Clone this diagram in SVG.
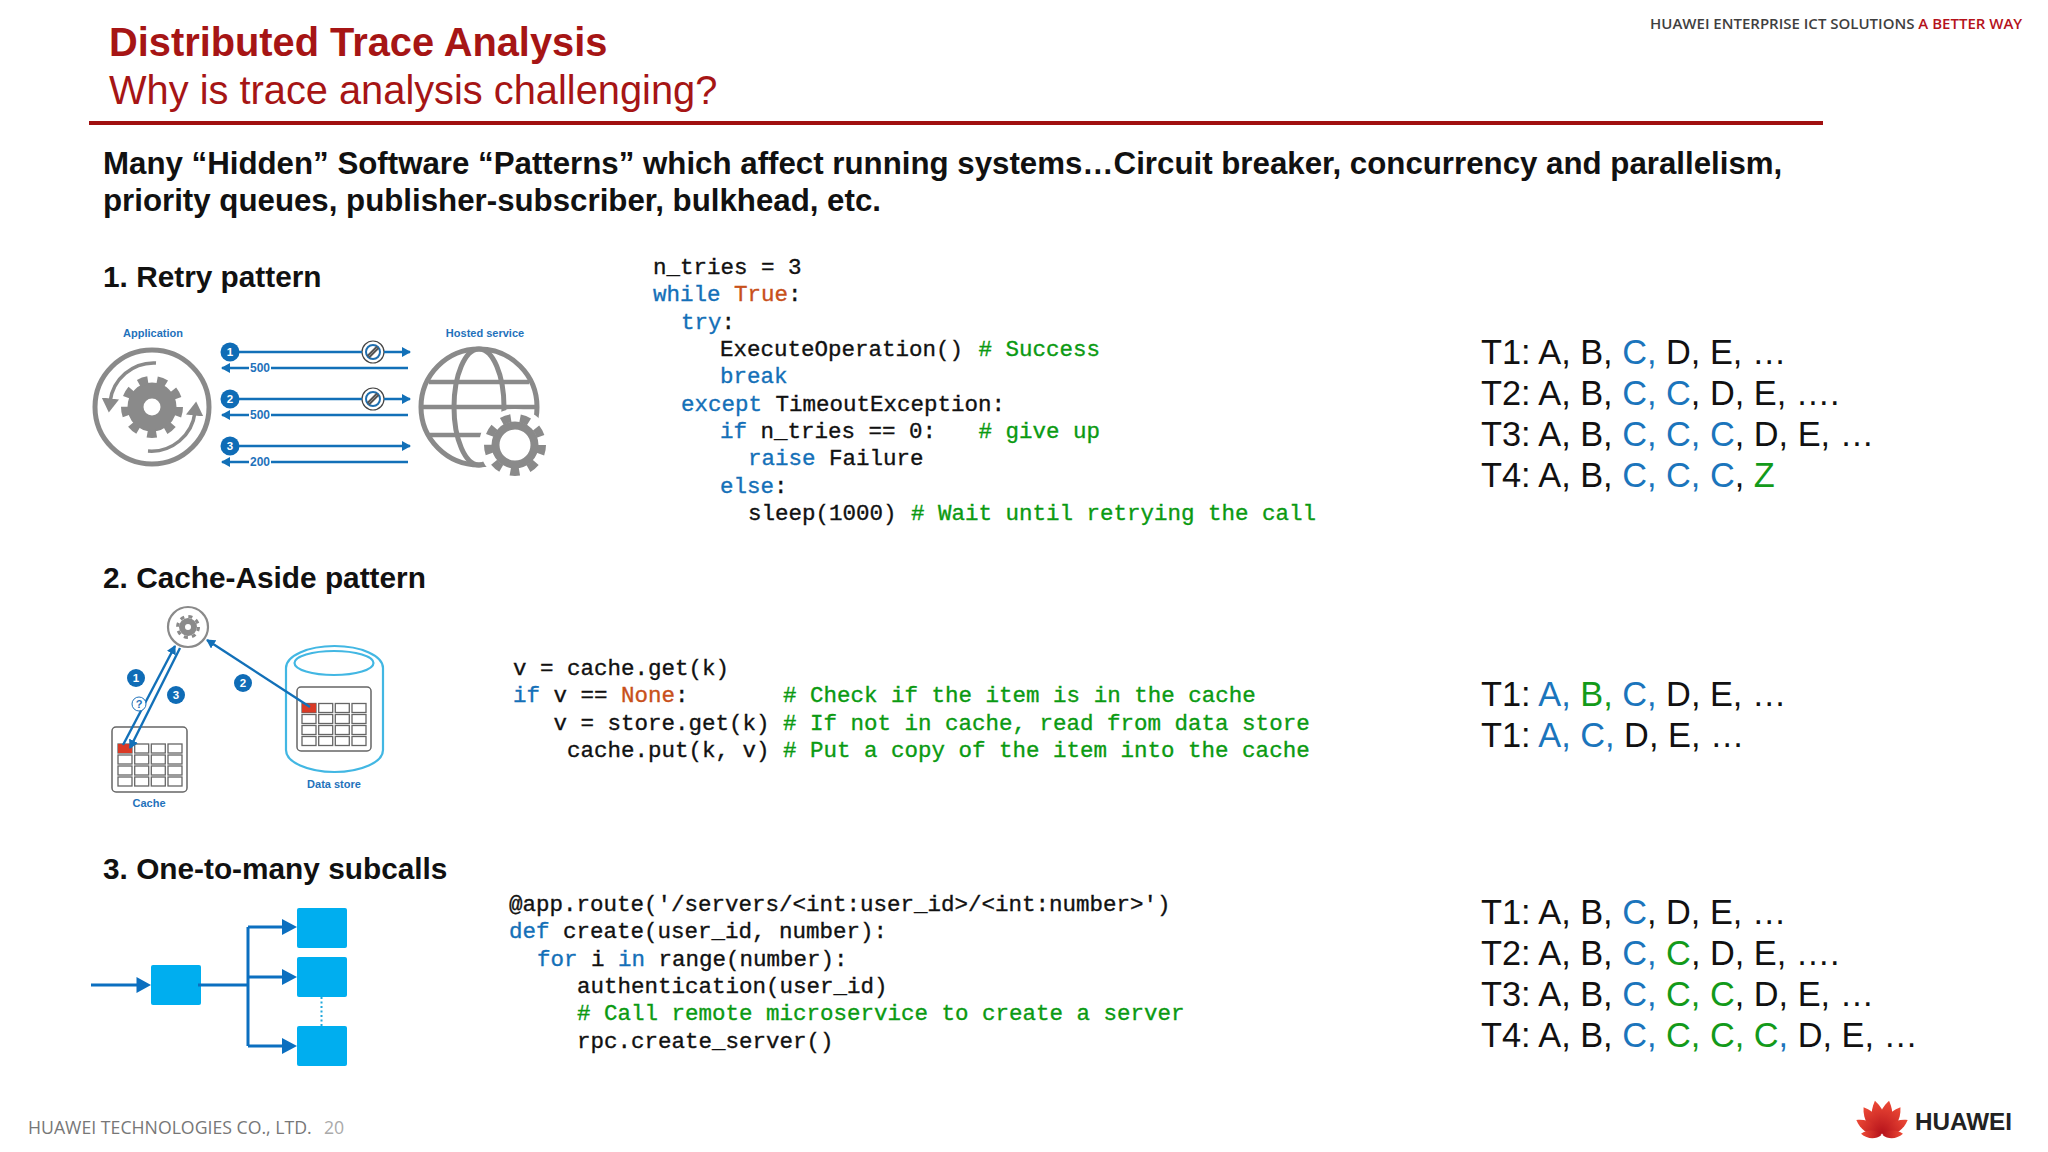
<svg xmlns="http://www.w3.org/2000/svg" width="2048" height="1152" viewBox="0 0 2048 1152">
<style>
text{font-family:"Liberation Sans",Arial,sans-serif}
.h{font-size:29.8px;font-weight:700;fill:#111}
.b{font-size:31.26px;font-weight:700;fill:#111}
.c{font-family:"Liberation Mono","Courier New",monospace;font-size:22.5px;fill:#111;stroke:#111;stroke-width:.35;white-space:pre}
.k{fill:#1470b8;stroke:#1470b8}.o{fill:#c8501a;stroke:#c8501a}.g{fill:#0b9a12;stroke:#0b9a12}
.t{font-size:34.35px;fill:#111}.tb{fill:#1b75bc}.tg{fill:#139a1a}
.il{font-size:11px;font-weight:700;fill:#1f72bb;text-anchor:middle}
.n{font-size:11.5px;font-weight:700;fill:#fff;text-anchor:middle}
.bd{fill:#0f6cb6}.ar{stroke:#1270b8;stroke-width:2.4;fill:none}
.gy{fill:none;stroke:#8a8a8a}
.cell{fill:#fff;stroke:#666;stroke-width:1.3}
.red{fill:#d93a26}
.box{fill:#00aeef}.ln{stroke:#0b6fc0;stroke-width:3;fill:none}.hd{fill:#0b6fc0}
</style>
<defs>
<marker id="ah" markerUnits="userSpaceOnUse" markerWidth="10" markerHeight="10" refX="8" refY="5" orient="auto"><path d="M0 0L9 5L0 10Z" fill="#1270b8"/></marker>
<marker id="ag" markerUnits="strokeWidth" markerWidth="5" markerHeight="5" refX="1" refY="2.5" orient="auto"><path d="M0 0L4 2.5L0 5Z" fill="#8a8a8a"/></marker>
<g id="noent"><circle r="11" fill="#fff" stroke="#444" stroke-width="1.2"/><circle r="7" fill="none" stroke="#1f6fb0" stroke-width="2"/><path d="M-5.500 4L4 -5.500" stroke="#555" stroke-width="2"/><path d="M-4 5.500L5.500 -4" stroke="#555" stroke-width="2"/></g>
<g id="tbl"><rect class="cell" width="14" height="9"/><rect class="cell" x="16.700" width="14" height="9"/><rect class="cell" x="33.300" width="14" height="9"/><rect class="cell" x="50" width="14" height="9"/></g>
<g id="grid"><use href="#tbl"/><use href="#tbl" y="11"/><use href="#tbl" y="22"/><use href="#tbl" y="33"/><rect class="red" width="14" height="9"/></g>
<linearGradient id="pg" x1="0" y1="0" x2="0" y2="1"><stop offset="0" stop-color="#ee4a36"/><stop offset="1" stop-color="#b5121b"/></linearGradient>
<path id="p" fill="url(#pg)" d="M0 -1C-9 -10 -9 -24 -1 -35C8 -24 8 -10 0 -1Z"/>
</defs>

<g id="title">
<text x="109" y="56" font-size="39.8" font-weight="700" fill="#a61515">Distributed Trace Analysis</text>
<text x="109" y="104" font-size="39.8" fill="#a61515">Why is trace analysis challenging?</text>
<rect x="89" y="121" width="1734" height="4" fill="#a01010"/>
</g>
<g id="tagline"><text x="1650" y="29" font-size="15" font-weight="600" style="font-family:'Open Sans',sans-serif" fill="#3f3f3f">HUAWEI ENTERPRISE ICT SOLUTIONS <tspan fill="#b5121b">A BETTER WAY</tspan></text></g>
<g id="intro">
<text class="b" x="103" y="174">Many “Hidden” Software “Patterns” which affect running systems…Circuit breaker, concurrency and parallelism,</text>
<text class="b" x="103" y="211">priority queues, publisher-subscriber, bulkhead, etc.</text>
</g>
<g id="headings">
<text class="h" x="103" y="287">1. Retry pattern</text>
<text class="h" x="103" y="588">2. Cache-Aside pattern</text>
<text class="h" x="103" y="879">3. One-to-many subcalls</text>
</g>

<g id="retry-app">
<text class="il" x="153" y="337">Application</text>
<circle class="gy" cx="152" cy="407" r="57" stroke-width="5"/>
<path class="gy" stroke-width="3.500" d="M156 363A44 44 0 0 0 110 402" marker-end="url(#ag)"/>
<path class="gy" stroke-width="3.500" d="M148 451A44 44 0 0 0 195 412" marker-end="url(#ag)"/>
<circle class="gy" cx="152" cy="407" r="16.500" stroke-width="16"/>
<circle class="gy" cx="152" cy="407" r="27" stroke-width="8" stroke-dasharray="9.400 9.450"/>
</g>
<g id="retry-service">
<text class="il" x="485" y="337">Hosted service</text>
<circle class="gy" cx="479" cy="407" r="58" stroke-width="5"/>
<ellipse class="gy" cx="479" cy="407" rx="25" ry="58" stroke-width="5"/>
<path class="gy" stroke-width="4.500" d="M429 382H529M423 407H535M429 435H529"/>
<circle cx="515" cy="445" r="36" fill="#fff"/>
<circle class="gy" cx="515" cy="445" r="19.500" stroke-width="8"/>
<circle class="gy" cx="515" cy="445" r="27" stroke-width="8" stroke-dasharray="9.400 9.450"/>
</g>
<g id="retry-marks">
<use href="#noent" x="373" y="352"/><use href="#noent" x="373" y="399"/>
<circle class="bd" cx="230" cy="352" r="9.500"/><text class="n" x="230" y="356">1</text>
<circle class="bd" cx="230" cy="399" r="9.500"/><text class="n" x="230" y="403">2</text>
<circle class="bd" cx="230" cy="446" r="9.500"/><text class="n" x="230" y="450">3</text>
<text class="il" x="260" y="372" style="font-size:12px">500</text>
<text class="il" x="260" y="419" style="font-size:12px">500</text>
<text class="il" x="260" y="466" style="font-size:12px">200</text>
</g>
<g id="code-1">
<text class="c" x="653" y="274">n_tries = 3</text>
<text class="c" x="653" y="301"><tspan class="k">while</tspan> <tspan class="o">True</tspan>:</text>
<text class="c" x="681" y="329"><tspan class="k">try</tspan>:</text>
<text class="c" x="720" y="356">ExecuteOperation() <tspan class="g" dx="2"># Success</tspan></text>
<text class="c" x="720" y="383"><tspan class="k">break</tspan></text>
<text class="c" x="681" y="411"><tspan class="k">except</tspan> TimeoutException:</text>
<text class="c" x="720" y="438"><tspan class="k">if</tspan> n_tries == 0:   <tspan class="g" dx="2"># give up</tspan></text>
<text class="c" x="748" y="465"><tspan class="k">raise</tspan> Failure</text>
<text class="c" x="720" y="493"><tspan class="k">else</tspan>:</text>
<text class="c" x="748" y="520">sleep(1000) <tspan class="g" dx="1"># Wait until retrying the call</tspan></text>
</g>
<g id="trace-1">
<text class="t" x="1481" y="364">T1: A, B, <tspan class="tb">C,</tspan> D, E, …</text>
<text class="t" x="1481" y="405">T2: A, B, <tspan class="tb">C, C</tspan>, D, E, ….</text>
<text class="t" x="1481" y="446">T3: A, B, <tspan class="tb">C, C, C</tspan>, D, E, …</text>
<text class="t" x="1481" y="487">T4: A, B, <tspan class="tb">C, C, C</tspan>, <tspan class="tg">Z</tspan></text>
</g>

<g id="cache-app">
<circle cx="188" cy="627" r="20" fill="#fff" stroke="#8a8a8a" stroke-width="2.200"/>
<circle class="gy" cx="188" cy="627" r="6" stroke-width="6"/>
<circle class="gy" cx="188" cy="627" r="10.500" stroke-width="3" stroke-dasharray="4.100 4.150"/>
</g>
<g id="cache-badges">
<circle class="bd" cx="136" cy="678" r="9"/><text class="n" x="136" y="682">1</text>
<circle class="bd" cx="176" cy="695" r="9"/><text class="n" x="176" y="699">3</text>
<circle class="bd" cx="243" cy="683" r="9"/><text class="n" x="243" y="687">2</text>
</g>
<g id="cache">
<rect x="112" y="727" width="75" height="65" rx="4" fill="none" stroke="#666" stroke-width="1.500"/>
<use href="#grid" x="118" y="744"/>
<text class="il" x="149" y="807">Cache</text>
</g>
<g id="data-store">
<path fill="#fff" stroke="#42b7e3" stroke-width="2.200" d="M286 668A48.500 22 0 0 1 383 668V750A48.500 22 0 0 1 286 750Z"/>
<ellipse cx="334" cy="663" rx="39.500" ry="12" fill="#fff" stroke="#42b7e3" stroke-width="2.200"/>
<rect x="297" y="687" width="74" height="64" rx="4" fill="#fff" stroke="#666" stroke-width="1.500"/>
<use href="#grid" x="302" y="703.500"/>
<text class="il" x="334" y="788">Data store</text>
</g>
<g id="code-2">
<text class="c" x="513" y="675">v = cache.get(k)</text>
<text class="c" x="513" y="702"><tspan class="k">if</tspan> v == <tspan class="o">None</tspan>:       <tspan class="g"># Check if the item is in the cache</tspan></text>
<text class="c" x="513" y="730">   v = store.get(k) <tspan class="g"># If not in cache, read from data store</tspan></text>
<text class="c" x="513" y="757">    cache.put(k, v) <tspan class="g"># Put a copy of the item into the cache</tspan></text>
</g>
<g id="trace-2">
<text class="t" x="1481" y="706">T1: <tspan class="tb">A,</tspan> <tspan class="tg">B,</tspan> <tspan class="tb">C,</tspan> D, E, …</text>
<text class="t" x="1481" y="747">T1: <tspan class="tb">A,</tspan> <tspan class="tb">C,</tspan> D, E, …</text>
</g>

<g id="subcalls">
<rect class="box" x="151" y="965" width="50" height="40" rx="2"/>
<rect class="box" x="297" y="908" width="50" height="40" rx="2"/>
<rect class="box" x="297" y="957" width="50" height="40" rx="2"/>
<rect class="box" x="297" y="1026" width="50" height="40" rx="2"/>
<path d="M321.500 997V1026" stroke="#20a8dc" stroke-width="2" stroke-dasharray="2 2.500"/>
</g>
<g id="code-3">
<text class="c" x="509" y="911">@app.route('/servers/&lt;int:user_id&gt;/&lt;int:number&gt;')</text>
<text class="c" x="509" y="938"><tspan class="k">def</tspan> create(user_id, number):</text>
<text class="c" x="537" y="966"><tspan class="k">for</tspan> i <tspan class="k">in</tspan> range(number):</text>
<text class="c" x="577" y="993">authentication(user_id)</text>
<text class="c" x="577" y="1020"><tspan class="g"># Call remote microservice to create a server</tspan></text>
<text class="c" x="577" y="1048">rpc.create_server()</text>
</g>
<g id="trace-3">
<text class="t" x="1481" y="924">T1: A, B, <tspan class="tb">C</tspan>, D, E, …</text>
<text class="t" x="1481" y="964.500">T2: A, B, <tspan class="tb">C,</tspan> <tspan class="tg">C</tspan>, D, E, ….</text>
<text class="t" x="1481" y="1005.500">T3: A, B, <tspan class="tb">C,</tspan> <tspan class="tg">C, C</tspan>, D, E, …</text>
<text class="t" x="1481" y="1046.500">T4: A, B, <tspan class="tb">C,</tspan> <tspan class="tg">C, C, C</tspan><tspan class="tb">,</tspan> D, E, …</text>
</g>

<g id="footer"><text x="28" y="1134" font-size="17.7" style="font-family:'Open Sans',sans-serif" fill="#777">HUAWEI TECHNOLOGIES CO., LTD.</text><text x="324" y="1134" font-size="17.7" style="font-family:'Open Sans',sans-serif" fill="#aaa">20</text></g>
<g id="logo">
<g transform="translate(1882 1135)">
<use href="#p" transform="rotate(-10)"/><use href="#p" transform="rotate(10) scale(-1 1)"/>
<use href="#p" transform="rotate(-32) scale(.95)"/><use href="#p" transform="rotate(32) scale(-.95 .95)"/>
<use href="#p" transform="rotate(-58) scale(.85)"/><use href="#p" transform="rotate(58) scale(-.85 .85)"/>
<use href="#p" transform="rotate(-85) scale(.6)"/><use href="#p" transform="rotate(85) scale(-.6 .6)"/>
</g>
<text x="1915" y="1130" font-size="24" font-weight="700" fill="#222" textLength="97" lengthAdjust="spacingAndGlyphs">HUAWEI</text>
</g>

<g id="connectors">
<path class="ar" d="M239 352H362M384 352H410" marker-end="url(#ah)"/>
<path class="ar" d="M408 368H271M249 368H222" marker-end="url(#ah)"/>
<path class="ar" d="M239 399H362M384 399H410" marker-end="url(#ah)"/>
<path class="ar" d="M408 415H271M249 415H222" marker-end="url(#ah)"/>
<path class="ar" d="M239 446H410" marker-end="url(#ah)"/>
<path class="ar" d="M408 462H271M249 462H222" marker-end="url(#ah)"/>
<path class="ar" d="M123 745L175 646" marker-end="url(#ah)"/>
<path class="ar" d="M180 648L130 748" marker-end="url(#ah)"/>
<path class="ar" d="M310 707L207 640" marker-end="url(#ah)"/>
<path class="ln" d="M91 985H140M198 985H248M248 927H285M248 977H285M248 1046H285M248 927V1046"/>
<path class="hd" d="M136.500 977L151 985L136.500 993ZM282 919L297 927L282 935ZM282 969L297 977L282 985ZM282 1038L297 1046L282 1054Z"/>
</g>
<g id="query-badge"><circle cx="139" cy="704" r="7" fill="#fff" stroke="#1f72bb" stroke-width="1"/><text class="il" x="139" y="708">?</text></g>
</svg>
